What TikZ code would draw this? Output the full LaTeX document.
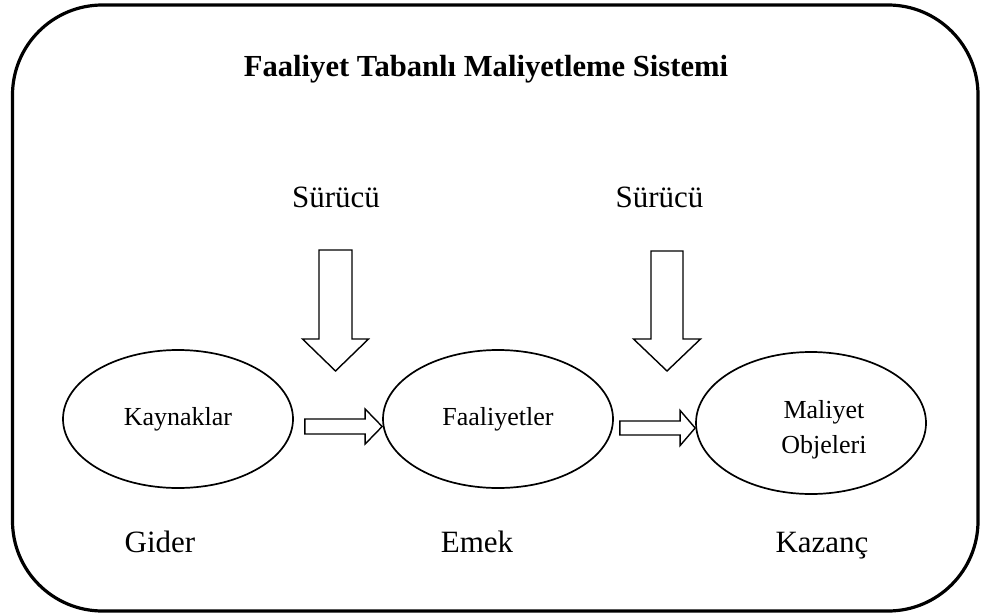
\documentclass[tikz,border=0pt]{standalone}
\usepackage{fontspec}
\setmainfont{Liberation Serif}
\usetikzlibrary{shapes.geometric,calc}

% outlined block arrows between two named points
\newcommand\harrow[5]{% start, tip, shaft half width, head half width, head length
  \draw[blockarrow] let \p1=(#1), \p2=(#2) in
    (\x1,\y1+#3) -- (\x2-#5,\y1+#3) -- (\x2-#5,\y1+#4) -- (\x2,\y1)
    -- (\x2-#5,\y1-#4) -- (\x2-#5,\y1-#3) -- (\x1,\y1-#3) -- cycle;}
\newcommand\varrow[5]{%
  \draw[blockarrow] let \p1=(#1), \p2=(#2) in
    (\x1-#3,\y1) -- (\x1-#3,\y2+#5) -- (\x1-#4,\y2+#5) -- (\x1,\y2)
    -- (\x1+#4,\y2+#5) -- (\x1+#3,\y2+#5) -- (\x1+#3,\y1) -- cycle;}

\tikzset{
  frame/.style={line width=3.2pt, rounded corners=90pt},
  ell/.style={draw, ellipse, line width=1.7pt, minimum width=230pt,
    minimum height=138pt, inner sep=0pt, font=\fontsize{26}{35}\selectfont},
  blockarrow/.style={draw, line width=1.4pt, fill=white, line join=miter},
  bigtext/.style={font=\fontsize{31}{37}\selectfont, anchor=base, inner sep=0pt},
  title/.style={font=\fontsize{30.6}{36}\bfseries, anchor=base, inner sep=0pt},
}

\begin{document}
\begin{tikzpicture}[x=1pt,y=-1pt]
  \useasboundingbox (0,0) rectangle (981,615);

  % outer frame
  \draw[frame] (12.5,5) rectangle (978,611);

  \node[title] (ttl) at (486,77) {Faaliyet Tabanlı Maliyetleme Sistemi};

  % drivers
  \node[bigtext] (dr1) at (336,207) {Sürücü};
  \node[bigtext] (dr2) at (659.5,207) {Sürücü};
  \coordinate (dr1top) at (335.5,250);
  \coordinate (dr1tip) at (335.5,371);
  \coordinate (dr2top) at (667,251);
  \coordinate (dr2tip) at (667,371);
  \varrow{dr1top}{dr1tip}{16.5pt}{33pt}{32pt}
  \varrow{dr2top}{dr2tip}{16pt}{33.5pt}{32pt}

  % main flow
  \node[ell] (kay) at (178,419) {Kaynaklar};
  \node[ell] (faa) at (498,419) {Faaliyetler};
  \node[ell, minimum height=142pt] (mal) at (811,423) {};
  \node[font=\fontsize{26}{35}\selectfont, align=center, inner sep=0pt]
    (maltxt) at (824,429.5) {Maliyet\\Objeleri};

  \coordinate (a1s) at ($(kay.east)+(11,7.5)$);
  \coordinate (a2s) at ($(faa.east)+(6,9)$);
  \harrow{a1s}{faa.west}{7.5pt}{17.5pt}{17pt}
  \harrow{a2s}{mal.west}{7pt}{17.5pt}{15pt}

  % bottom labels
  \node[bigtext] (gid) at (160,552) {Gider};
  \node[bigtext] (eme) at (477,552) {Emek};
  \node[bigtext] (kaz) at (822,552) {Kazanç};
\end{tikzpicture}
\end{document}
